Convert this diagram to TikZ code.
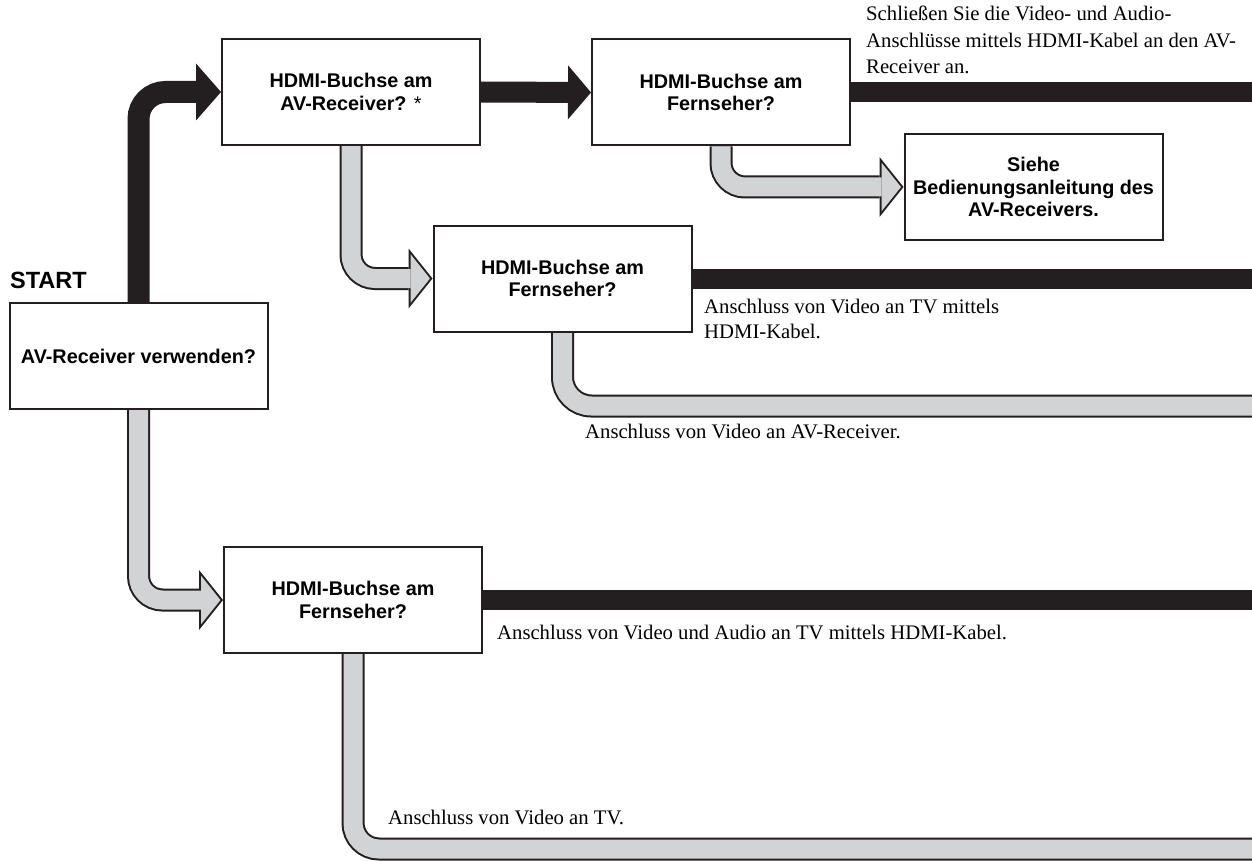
\documentclass[tikz,border=0pt]{standalone}
\usepackage{fontspec}
\setmainfont{Liberation Serif}
\setsansfont{Liberation Sans}
\usetikzlibrary{arrows.meta,backgrounds}
\definecolor{ink}{HTML}{231F20}
\definecolor{pale}{HTML}{D1D3D4}
\pgfdeclarelayer{bg}
\pgfsetlayers{bg,background,main}
\begin{document}
\begin{tikzpicture}[x=1pt,y=-1pt,
  box/.style={draw=ink, line width=2pt, fill=white, minimum width=258pt, minimum height=106pt,
    inner sep=0pt, align=center, font=\sffamily\bfseries\fontsize{19.8}{22.5}\selectfont},
  note/.style={inner sep=0pt, align=left, font=\fontsize{20.7}{25}\selectfont},
  blackbend/.style={draw=ink, line width=22pt, rounded corners=27pt,
    -{Triangle[length=25pt,width=57pt,line width=0pt]}},
  blackstraight/.style={draw=ink, line width=21pt,
    -{Triangle[length=23pt,width=54pt,line width=0pt]}},
  blackbar/.style={draw=ink, line width=20pt},
  grayedge/.style={draw=ink, line width=23pt,
    -{Triangle[length=24pt,width=60pt,line width=0pt]}},
  grayfill/.style={draw=pale, line width=19pt, shorten >=2.56pt,
    -{Triangle[length=19.4pt,width=48.6pt,line width=0pt]}},
  grayedgeplain/.style={draw=ink, line width=23pt},
  grayfillplain/.style={draw=pale, line width=19pt}
]
\begin{pgfonlayer}{bg}
  \fill[white] (0,0) rectangle (1252,861);
\end{pgfonlayer}
\useasboundingbox (0,0) rectangle (1252,861);

% boxes
\node[box] (A) at (138.5,356) {AV-Receiver verwenden?};
\node[box] (B) at (351,92) {HDMI-Buchse am\\AV-Receiver? {\mdseries *}};
\node[box] (C) at (721,92.5) {HDMI-Buchse am\\Fernseher?};
\node[box] (D) at (1033.5,187) {Siehe\\Bedienungsanleitung des\\AV-Receivers.};
\node[box] (E) at (562.5,278.5) {HDMI-Buchse am\\Fernseher?};
\node[box] (F) at (353,600) {HDMI-Buchse am\\Fernseher?};
\node[anchor=base west, inner sep=0pt, font=\sffamily\bfseries\fontsize{23.5}{28}\selectfont] (start) at (10,288) {START};

% notes
\node[note, anchor=north west, font=\fontsize{20.7}{26.5}\selectfont] (t1) at (866,6) {Schließen Sie die Video- und Audio-\\Anschlüsse mittels HDMI-Kabel an den AV-\\Receiver an.};
\node[note, anchor=north west] (t2) at (704,299) {Anschluss von Video an TV mittels\\HDMI-Kabel.};
\node[note, anchor=base west] (t3) at (585,438) {Anschluss von Video an AV-Receiver.};
\node[note, anchor=base west] (t4) at (497,639) {Anschluss von Video und Audio an TV mittels HDMI-Kabel.};
\node[note, anchor=base west] (t5) at (388,824) {Anschluss von Video an TV.};

% free ends
\coordinate (rC) at (1262,92.5);
\coordinate (rE) at (1262,278.5);
\coordinate (rF) at (1262,600);
\coordinate (rE2) at (1262,406);
\coordinate (rF2) at (1262,849);

\begin{pgfonlayer}{background}
  % black arrows
  \draw[blackbend] (A.north) |- (B.west);
  \draw[blackstraight] (B.east) -- (C.west);
  \draw[blackbar] (C.east) -- (rC);
  \draw[blackbar] (E.east) -- (rE);
  \draw[blackbar] (F.east) -- (rF);
  % gray arrows
  \draw[grayedge, rounded corners=24pt] (B.south) |- (E.west);
  \draw[grayfill, rounded corners=24pt] (B.south) |- (E.west);
  \draw[grayedge, rounded corners=24pt] (C.south) |- (D.west);
  \draw[grayfill, rounded corners=24pt] (C.south) |- (D.west);
  \draw[grayedge, rounded corners=24pt] (A.south) |- (F.west);
  \draw[grayfill, rounded corners=24pt] (A.south) |- (F.west);
  \draw[grayedgeplain, rounded corners=29pt] (E.south) |- (rE2);
  \draw[grayfillplain, rounded corners=29pt] (E.south) |- (rE2);
  \draw[grayedgeplain, rounded corners=26pt] (F.south) |- (rF2);
  \draw[grayfillplain, rounded corners=26pt] (F.south) |- (rF2);
\end{pgfonlayer}
\end{tikzpicture}
\end{document}
